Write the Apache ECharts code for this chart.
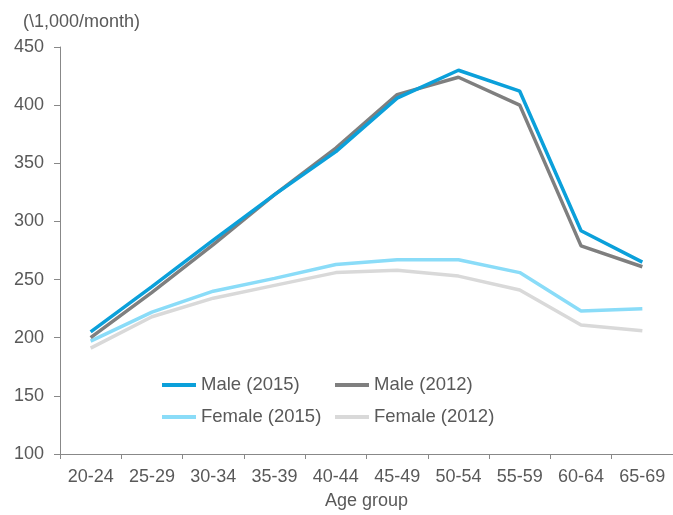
<!DOCTYPE html>
<html>
<head>
<meta charset="utf-8">
<script src="https://cdn.jsdelivr.net/npm/echarts@6/dist/echarts.min.js"></script>
<style>
html, body { margin: 0; padding: 0; background: #fff; }
#chartLine { width: 673px; height: 515px; }
</style>
</head>
<body>
<div id="chartLine"></div>
<script>
// data
var ageGroups = ['20-24', '25-29', '30-34', '35-39', '40-44', '45-49', '50-54', '55-59', '60-64', '65-69'];
var male2015 = [205, 244, 284, 323, 360, 406, 430, 412, 292, 265];
var male2012 = [200, 239, 280, 323, 363, 409, 424, 400, 279, 261];
var female2015 = [197, 222, 240, 251, 263, 267, 267, 256, 223, 225];
var female2012 = [191, 218, 234, 245, 256, 258, 253, 241, 211, 206];
var yTicks = [100, 150, 200, 250, 300, 350, 400, 450];

var font = "'Liberation Sans', Arial, sans-serif";
var axisColor = '#888888';
var labelColor = '#595959';

function legendAt(name, left, top) {
    return {
        data: [name],
        left: left,
        top: top,
        padding: 0,
        icon: 'rect',
        itemWidth: 34,
        itemHeight: 4,
        textStyle: { color: labelColor, fontSize: 18.5, fontFamily: font, lineHeight: 20 }
    };
}

function lineSeries(name, color, data, z) {
    return {
        name: name,
        type: 'line',
        data: data,
        symbol: 'none',
        z: z,
        lineStyle: { color: color, width: 3.5 },
        itemStyle: { color: color }
    };
}

var myChart = echarts.init(document.getElementById('chartLine'));
var option = {
    backgroundColor: '#fff',
    animation: false,
    title: {
        text: '(\\1,000/month)',
        left: 23,
        top: 13,
        padding: 0,
        textStyle: { color: labelColor, fontSize: 18, fontWeight: 'normal', fontFamily: font }
    },
    legend: [
        legendAt('Male (2015)', 162, 375),
        legendAt('Male (2012)', 335, 375),
        legendAt('Female (2015)', 162, 407),
        legendAt('Female (2012)', 335, 407)
    ],
    grid: { left: 60, right: 0, top: 47, bottom: 59, containLabel: false },
    xAxis: {
        type: 'category',
        data: ageGroups,
        name: 'Age group',
        nameLocation: 'middle',
        nameGap: 38,
        nameTextStyle: { color: labelColor, fontSize: 18, fontFamily: font },
        axisLine: { lineStyle: { color: axisColor, width: 1 } },
        axisTick: { show: true, length: 5, lineStyle: { color: axisColor } },
        axisLabel: { color: labelColor, fontSize: 18, fontFamily: font, margin: 14, interval: 0 },
        splitLine: { show: false }
    },
    yAxis: {
        type: 'value',
        min: yTicks[0],
        max: yTicks[yTicks.length - 1],
        interval: 50,
        axisLine: { show: true, lineStyle: { color: axisColor, width: 1 } },
        axisTick: { show: true, length: 6, lineStyle: { color: axisColor } },
        axisLabel: { color: labelColor, fontSize: 18, fontFamily: font, margin: 16 },
        splitLine: { show: false }
    },
    series: [
        lineSeries('Female (2012)', '#d9d9d9', female2012, 1),
        lineSeries('Female (2015)', '#8adcf8', female2015, 2),
        lineSeries('Male (2012)', '#7f7f7f', male2012, 3),
        lineSeries('Male (2015)', '#0ba0da', male2015, 4)
    ]
};
myChart.setOption(option);
</script>
</body>
</html>
